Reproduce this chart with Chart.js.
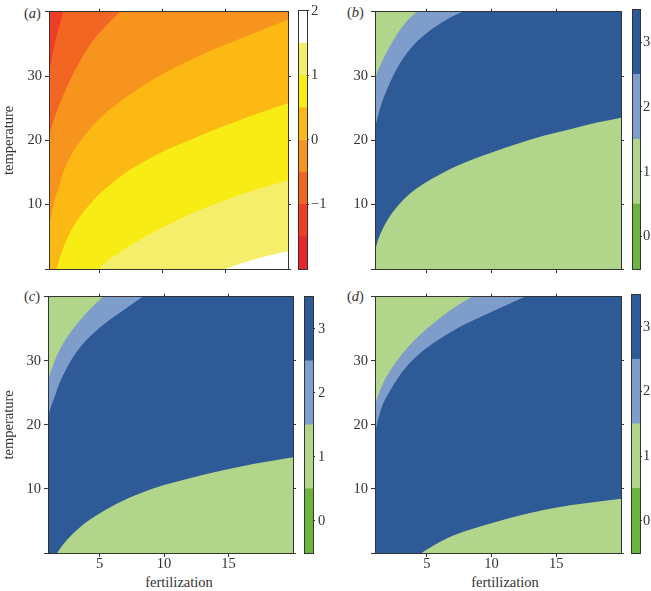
<!DOCTYPE html>
<html>
<head>
<meta charset="utf-8">
<title>Fertilization and temperature</title>
<script src="https://cdn.jsdelivr.net/npm/chart.js@4"></script>
<style>
    body { margin: 0; background: #fff; width: 651px; height: 591px; position: relative; overflow: hidden; }
    canvas { position: absolute; }
    .tag { position: absolute; font: 14.5px "Liberation Serif", serif; color: #333; line-height: 16px; }
    .xname { width: 120px; text-align: center; top: 574px; }
</style>
</head>
<body>
<div class="tag" style="left:24px;top:5px">(<i>a</i>)</div>
<div class="tag" style="left:347px;top:4px">(<i>b</i>)</div>
<div class="tag" style="left:24px;top:288px">(<i>c</i>)</div>
<div class="tag" style="left:347px;top:288px">(<i>d</i>)</div>
<div class="tag xname" style="left:119px">fertilization</div>
<div class="tag xname" style="left:445px">fertilization</div>
<script>
// tick labels
const xTicks = [5, 10, 15];
const yTicksLeft = [0, 10, 20, 30, 40];
const yTicksRight = [0, 10, 20, 30];
const yLabels = [10, 20, 30];
const yAxisName = 'temperature';

// bottom edge of the plots, every panel starts filled from here
const baseX = [1, 20];
const baseY = [0, 0];

// Contour boundaries. Points just outside 0..40 carry a
// curve on past the frame, they get clipped and keep its slope at the edge.

// panel a
const a1X = [1, 14, 15.06, 16.3, 17.5, 18.8, 20];
const a1Y = [-2, -1, 0, 0.9, 1.6, 2.25, 2.75];
const a2X = [1, 4.2, 4.92, 5.98, 7.04, 8.1, 9.43, 11, 13, 15, 17.5, 20];
const a2Y = [-2, -1.4, 0, 1.73, 3.1, 4.4, 5.9, 7.4, 9.2, 10.7, 12.4, 13.8];
const a3X = [1, 1.6, 2, 2.54, 3.2, 4, 4.92, 5.98, 7.04, 8.3, 10, 12.5, 15, 17.5, 20];
const a3Y = [-3, 0, 2.6, 5.14, 7.43, 9.47, 11.5, 13.3, 14.9, 16.4, 18.2, 20.3, 22.3, 24.1, 25.75];
const a4X = [1, 1.16, 1.42, 1.74, 2.14, 2.7, 3.76, 5.08, 6.64, 8.63, 10.4, 13, 15.7, 18.35, 20];
const a4Y = [6.7, 8.2, 10.5, 12.5, 15.06, 17.5, 20.6, 23.5, 26, 28.7, 30.7, 33.2, 35.4, 37.5, 38.73];
const a5X = [1, 1.45, 2, 2.4, 2.93, 3.6, 4.66, 5.72, 6.64, 7.6, 20];
const a5Y = [20.8, 23.6, 26.4, 28.2, 30.4, 32.8, 35.9, 38.2, 40, 41.5, 41.5];
const a6X = [1, 1.16, 1.42, 1.74, 2.14, 2.5, 20];
const a6Y = [30.3, 32.1, 34.66, 37.2, 40, 42, 42];
const aColors = ['#ffffff', '#f5ee6b', '#f7ec13', '#fdb913', '#f7941e', '#f26522', '#ef3e25'];

// panel b
const b1X = [1, 1.26, 1.65, 2.16, 2.8, 3.58, 4.61, 6.47, 8.33, 10.06, 11.94, 14.01, 16.07, 18.14, 20];
const b1Y = [2.86, 4.65, 6.44, 8.23, 9.9, 11.5, 13.05, 15.2, 16.85, 18.16, 19.44, 20.71, 21.73, 22.76, 23.52];
const b2X = [1, 1.23, 1.52, 1.9, 2.42, 3.06, 3.97, 5.13, 6.42, 7.76, 9, 20];
const b2Y = [21.99, 23.8, 25.8, 27.8, 30.1, 32.4, 34.8, 36.9, 38.65, 40, 41, 41];
const b3X = [1, 1.39, 1.9, 2.55, 3.32, 4.22, 5.2, 20];
const b3Y = [29.7, 31.6, 33.7, 36, 38.2, 40, 41.6, 41.6];

// panel c
const c1X = [1, 1.72, 2.45, 3.48, 4.77, 6.32, 8.12, 10.06, 12, 13.8, 15.87, 17.93, 20];
const c1Y = [-3, 0, 1.99, 4.03, 5.9, 7.7, 9.3, 10.65, 11.68, 12.55, 13.47, 14.23, 14.95];
const c2X = [1, 1.3, 1.67, 1.93, 2.31, 2.83, 3.6, 4.63, 5.92, 7.21, 8.35, 9.5, 20];
const c2Y = [21.4, 23.2, 25.3, 26.7, 28.3, 30.2, 32.4, 34.5, 36.6, 38.4, 40, 41.5, 41.5];
const c3X = [1, 1.21, 1.54, 2.06, 2.7, 3.47, 4.38, 5.28, 6.2, 20];
const c3Y = [26.9, 28.3, 30.1, 32.3, 34.3, 36.3, 38.3, 40, 41.6, 41.6];

// panel d
const d1X = [1, 3.9, 4.59, 6.01, 7.81, 10.06, 11.94, 14.01, 16.07, 18.14, 20];
const d1Y = [-2, -1, 0, 1.73, 3.3, 4.69, 5.72, 6.73, 7.45, 8, 8.47];
const d2X = [1, 1.23, 1.49, 2.24, 2.81, 3.58, 4.61, 5.9, 7.19, 8.48, 10.06, 11.43, 12.59, 14, 20];
const d2Y = [18.57, 20.7, 22.6, 25.6, 27.4, 29.4, 31.4, 33.3, 34.9, 36.2, 37.7, 38.95, 40, 41.2, 41.2];
const d3X = [1, 1.3, 1.65, 2.16, 2.81, 3.58, 4.61, 5.9, 7.19, 8.48, 9.6, 20];
const d3Y = [23.2, 24.9, 26.6, 28.4, 30.3, 32.2, 34.3, 36.5, 38.4, 40, 41.3, 41.3];

const stateColors = ['#b0d58b', '#2e5a97', '#7f9dcb', '#b0d58b'];

// colour bars
const heatEdges = [-2, -1.5, -1, -0.5, 0, 0.5, 1, 1.5, 2];
const heatBarColors = ['#e8252a', '#ef3e25', '#f26522', '#f7941e', '#fdb913', '#f7ec13', '#f5ee6b', '#ffffff'];
const heatTicks = [-1, 0, 1, 2];
const stateEdges = [-0.5, 0.5, 1.5, 2.5, 3.5];
const stateBarColors = ['#6cb33f', '#b0d58b', '#7f9dcb', '#2e5a97'];
const stateTicks = [0, 1, 2, 3];

const INK = '#333333';
const FONT = { family: '"Liberation Serif", serif', size: 14.5 };

Chart.defaults.color = INK;
Chart.defaults.font.family = FONT.family;
Chart.defaults.font.size = FONT.size;

function addCanvas(left, top, width, height) {
    const canvas = document.createElement('canvas');
    canvas.width = width;
    canvas.height = height;
    canvas.style.left = left + 'px';
    canvas.style.top = top + 'px';
    canvas.style.width = width + 'px';
    canvas.style.height = height + 'px';
    document.body.appendChild(canvas);
    return canvas;
}

function frameAxis(position, size, ticks, tickLength, extra) {
    return Object.assign({
        position: position,
        border: { display: true, color: INK, width: 1, z: 1 },
        grid: { drawOnChartArea: false, drawTicks: tickLength > 0, tickLength: tickLength, tickColor: INK, z: 1 },
        ticks: { display: false, autoSkip: false, maxRotation: 0 },
        afterBuildTicks: function(scale) {
            if (ticks) scale.ticks = ticks.map(v => ({ value: v }));
        },
        afterFit: function(scale) {
            if (position === 'left' || position === 'right') scale.width = size;
            else scale.height = size;
        }
    }, extra);
}

function drawPanel(box, curves, colors, showX, showYTitle) {
    const width = box.right + 10 - box.left;
    const height = box.bottom - box.top;
    const ctx = addCanvas(box.left, box.top, width, height).getContext('2d');

    const datasets = curves.map((curve, i) => ({
        data: curve[0].map((x, k) => ({ x: x, y: curve[1][k] })),
        showLine: true,
        cubicInterpolationMode: 'monotone',
        fill: 'end',
        backgroundColor: colors[i],
        borderWidth: 0,
        pointRadius: 0,
        order: curves.length - i
    }));

    new Chart(ctx, {
        type: 'scatter',
        data: { datasets: datasets },
        options: {
            responsive: false,
            animation: false,
            layout: { autoPadding: false, padding: 0 },
            plugins: { legend: { display: false }, tooltip: { enabled: false } },
            scales: {
                x: frameAxis('bottom', height - box.plotBottom, xTicks, 4, {
                    type: 'linear', min: 1, max: 20,
                    ticks: {
                        display: showX, autoSkip: false, maxRotation: 0, padding: -2,
                        callback: v => String(v)
                    }
                }),
                xTop: frameAxis('top', box.plotTop, xTicks, 3, { type: 'linear', min: 1, max: 20 }),
                y: frameAxis('left', box.plotLeft, yTicksLeft, 4, {
                    type: 'linear', min: 0, max: 40,
                    ticks: {
                        display: true, autoSkip: false, padding: 3,
                        callback: v => yLabels.includes(v) ? String(v) : ''
                    },
                    title: { display: showYTitle, text: yAxisName, padding: { top: 0, bottom: 0 }, font: FONT }
                }),
                yRight: frameAxis('right', 10, yTicksRight, 3, { type: 'linear', min: 0, max: 40 })
            }
        }
    });
}

function drawColorBar(box, edges, colors, ticks) {
    const width = box.width;
    const height = box.bottom - box.top;
    const ctx = addCanvas(box.left, box.top, width, height).getContext('2d');

    const datasets = colors.map((color, i) => ({
        data: [[edges[i], edges[i + 1]]],
        backgroundColor: color,
        borderWidth: 0,
        barPercentage: 1,
        categoryPercentage: 1
    }));
    const low = edges[0];
    const high = edges[edges.length - 1];

    new Chart(ctx, {
        type: 'bar',
        data: { labels: [''], datasets: datasets },
        options: {
            responsive: false,
            animation: false,
            layout: { autoPadding: false, padding: 0 },
            datasets: { bar: { grouped: false } },
            plugins: { legend: { display: false }, tooltip: { enabled: false } },
            scales: {
                x: frameAxis('bottom', height - box.plotBottom, null, 0, { type: 'category' }),
                xTop: frameAxis('top', box.plotTop, null, 0, { type: 'category' }),
                y: frameAxis('right', width - box.plotRight, ticks, 2, {
                    type: 'linear', min: low, max: high,
                    ticks: {
                        display: true, autoSkip: false, padding: box.gap,
                        callback: v => String(v).replace('-', '\u2212')
                    }
                }),
                yLeft: frameAxis('left', box.plotLeft, [], 0, { type: 'linear', min: low, max: high })
            }
        }
    });
}

drawPanel({ left: 0, top: 0, right: 288, bottom: 290, plotLeft: 49, plotTop: 8, plotBottom: 269 },
    [[baseX, baseY], [a1X, a1Y], [a2X, a2Y], [a3X, a3Y], [a4X, a4Y], [a5X, a5Y], [a6X, a6Y]], aColors, false, true);
drawPanel({ left: 330, top: 0, right: 621, bottom: 290, plotLeft: 45, plotTop: 8, plotBottom: 269 },
    [[baseX, baseY], [b1X, b1Y], [b2X, b2Y], [b3X, b3Y]], stateColors, false, false);
drawPanel({ left: 0, top: 285, right: 293, bottom: 591, plotLeft: 48, plotTop: 7, plotBottom: 268 },
    [[baseX, baseY], [c1X, c1Y], [c2X, c2Y], [c3X, c3Y]], stateColors, true, true);
drawPanel({ left: 330, top: 285, right: 621, bottom: 591, plotLeft: 45, plotTop: 7, plotBottom: 268 },
    [[baseX, baseY], [d1X, d1Y], [d2X, d2Y], [d3X, d3Y]], stateColors, true, false);

drawColorBar({ left: 292, top: 0, width: 40, bottom: 290, plotLeft: 6, plotRight: 15, plotTop: 8, plotBottom: 269, gap: 2 },
    heatEdges, heatBarColors, heatTicks);
drawColorBar({ left: 625, top: 0, width: 26, bottom: 290, plotLeft: 7, plotRight: 15, plotTop: 8, plotBottom: 269, gap: 1 },
    stateEdges, stateBarColors, stateTicks);
drawColorBar({ left: 298, top: 285, width: 32, bottom: 591, plotLeft: 6, plotRight: 15, plotTop: 7, plotBottom: 268, gap: 3 },
    stateEdges, stateBarColors, stateTicks);
drawColorBar({ left: 625, top: 285, width: 26, bottom: 591, plotLeft: 6, plotRight: 15, plotTop: 7, plotBottom: 268, gap: 1 },
    stateEdges, stateBarColors, stateTicks);
</script>
</body>
</html>
